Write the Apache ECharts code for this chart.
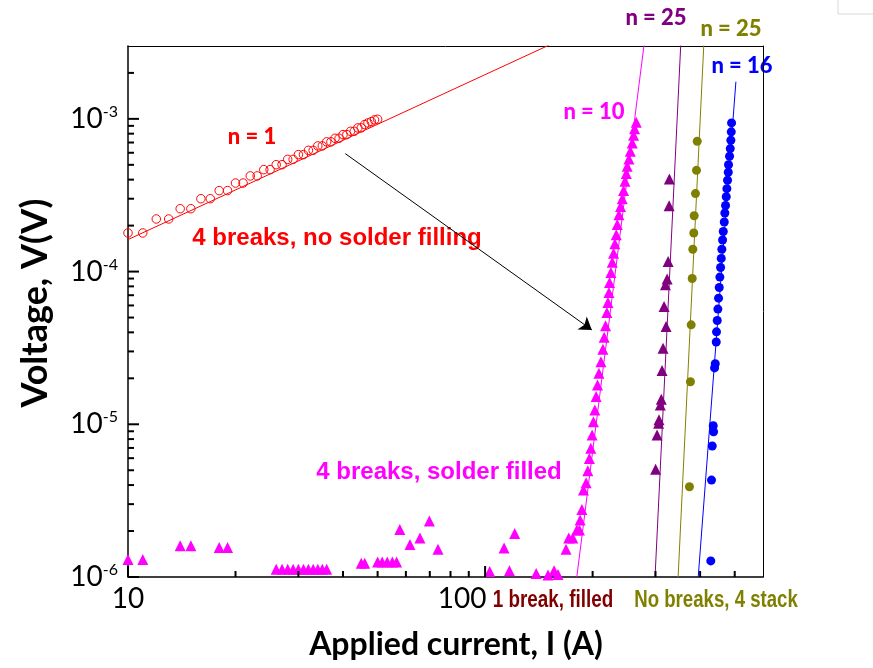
<!DOCTYPE html>
<html>
<head>
<meta charset="utf-8">
<script src="https://cdn.jsdelivr.net/npm/echarts@6/dist/echarts.min.js"></script>
<style>
html,body{margin:0;padding:0;background:#fff}
#chart{width:873px;height:668px}
</style>
</head>
<body>
<div id="chart"></div>
<script>
// 4 breaks, no solder filling (n = 1)
var noFillI = [10,11,12,13,14,15,16,17,18,19,20,21,22,23,24,25,26,27,28,29,30,
  31,32,33,34,35,36,37,38,39,40,41,42,43,44,45,46,47,48,49,50];
var noFillV = [1.79e-4,1.79e-4,2.21e-4,2.21e-4,2.58e-4,2.58e-4,3.0e-4,3.0e-4,3.39e-4,3.39e-4,
  3.8e-4,3.8e-4,4.23e-4,4.23e-4,4.65e-4,4.65e-4,5.01e-4,5.01e-4,5.43e-4,5.43e-4,
  5.83e-4,5.83e-4,6.22e-4,6.22e-4,6.65e-4,6.65e-4,7.07e-4,7.07e-4,7.46e-4,7.46e-4,
  7.89e-4,7.89e-4,8.29e-4,8.29e-4,8.73e-4,8.73e-4,9.18e-4,9.41e-4,9.6e-4,9.85e-4,9.94e-4];

// 4 breaks, solder filled (n = 10)
var filledI = [10,11,14,15,18,19,26,27,28,29,30,31,32,33,34,35,36,45,46,
  50,51.5,53.2,55,56.5,57.7,61.6,65.7,69.8,73.8,103,113,117,121,139,150,156,160,
  168.5,171.5,176,180.6,183.7,184.5,186.6,188.5,
  191.8,193.9,195.9,197.7,199.4,201.1,202.9,204.6,206.4,208.3,
  211.0,213.7,215.5,217.4,219.3,220.8,222.2,223.1,225.0,227.0,
  228.9,230.9,232.9,234.4,237.0,239.5,242.1,244.2,246.4,248.5,
  250.0,252.8,255.0,258.2,260.4,262.1,265.0];
var filledV = [1.30e-6,1.30e-6,1.60e-6,1.60e-6,1.56e-6,1.56e-6,
  1.125e-6,1.125e-6,1.125e-6,1.125e-6,1.125e-6,1.125e-6,1.125e-6,1.125e-6,1.125e-6,1.125e-6,1.125e-6,
  1.23e-6,1.23e-6,1.256e-6,1.256e-6,1.256e-6,1.256e-6,1.256e-6,
  2.05e-6,1.63e-6,1.80e-6,2.33e-6,1.52e-6,1.087e-6,1.55e-6,1.10e-6,1.93e-6,
  1.055e-6,1.03e-6,1.10e-6,1.04e-6,1.52e-6,1.80e-6,1.80e-6,2.03e-6,2.03e-6,2.36e-6,2.77e-6,3.71e-6,
  4.14e-6,4.96e-6,5.98e-6,6.96e-6,8.51e-6,1.04e-5,1.24e-5,1.52e-5,1.81e-5,2.16e-5,
  2.57e-5,3.10e-5,3.72e-5,4.41e-5,5.39e-5,6.27e-5,7.29e-5,8.48e-5,9.87e-5,1.15e-4,
  1.32e-4,1.52e-4,1.74e-4,2.03e-4,2.36e-4,2.67e-4,3.00e-4,3.40e-4,3.90e-4,4.38e-4,
  4.89e-4,5.47e-4,6.13e-4,6.96e-4,7.81e-4,8.60e-4,9.50e-4];

// 1 break, filled (n = 25)
var breakI = [300.2,303.0,306.1,306.9,309.5,311.5,313.0,315.0,321.2,317.0,319.8,323.3,325.4,327.5,328.1];
var breakV = [5.07e-6,8.51e-6,1.015e-5,1.07e-5,1.34e-5,1.46e-5,2.25e-5,3.15e-5,4.37e-5,
  5.90e-5,8.19e-5,8.93e-5,1.165e-4,2.70e-4,4.04e-4];

// No breaks, 4 stack (n = 25)
var stackI = [373.4,375.8,377.6,380.1,381.6,384.0,385.0,388.2,390.8,392.6];
var stackV = [3.90e-6,1.90e-5,4.48e-5,9.01e-5,1.40e-4,1.79e-4,2.32e-4,3.24e-4,4.60e-4,7.13e-4];

// n = 16
var blueI = [428.5,430.5,432.5,436.2,435.3,439.0,441.0,443.8,444.6,446.7,
  448.5,450.5,452.5,454.3,456.4,458.4,460.2,462.3,464.4,467.4,
  469.1,471.3,473.4,475.3,477.4,479.6,480.4,483.6,485.8,487.7,489.0,489.9];
var blueV = [1.275e-6,4.31e-6,7.21e-6,8.94e-6,9.79e-6,2.34e-5,2.49e-5,3.46e-5,4.03e-5,4.78e-5,
  5.68e-5,6.70e-5,7.87e-5,9.20e-5,1.064e-4,1.22e-4,1.40e-4,1.61e-4,1.83e-4,2.11e-4,
  2.42e-4,2.71e-4,3.09e-4,3.49e-4,3.96e-4,4.47e-4,5.01e-4,5.69e-4,6.39e-4,7.24e-4,8.22e-4,9.41e-4];

// power-law fit lines (end points)
var fitNoFillI = [10, 151],      fitNoFillV = [1.62e-4, 3.04e-3];
var fitFilledI = [180.6, 278.6], fitFilledV = [1e-6, 3.04e-3];
var fitBreakI = [299.1, 353.0],  fitBreakV = [1e-6, 3.04e-3];
var fitStackI = [347.1, 409.6],  fitStackV = [1e-6, 3.04e-3];
var fitBlueI = [395.1, 503.8],   fitBlueV = [1e-6, 1.75e-3];

// arrow from the n=1 data to the n=10 data
var arrowFrom = [40.6, 5.92e-4], arrowTo = [199, 4.15e-5];

// axis ranges and ticks
var xRange = [10, 600], yRange = [1e-6, 3e-3];
var xMajor = [10, 100];
var xMinor = [20,30,40,50,60,70,80,90,200,300,400,500];
var yMajor = [1e-6, 1e-5, 1e-4, 1e-3];
var yMinor = [];
[1e-6, 1e-5, 1e-4].forEach(function(d){
  for (var k = 2; k <= 9; k++) yMinor.push(k * d);
});
yMinor.push(2e-3);

function pairs(xs, ys){
  return xs.map(function(x, i){ return [x, ys[i]]; });
}
function isDecade(v){
  var e = Math.log10(v);
  return Math.abs(e - Math.round(e)) < 1e-6;
}

var RED = '#ff0000', MAG = '#ff00ff', PUR = '#800080', OLV = '#808000', BLU = '#0000ff', DRED = '#800000';

var chart = echarts.init(document.getElementById('chart'));

function fitLine(xs, ys, color){
  return {
    type: 'line', data: pairs(xs, ys), symbol: 'none', silent: true,
    lineStyle: {color: color, width: 1}, z: 2, clip: true
  };
}
function dots(xs, ys, color, symbol, size, hollow){
  return {
    type: 'scatter', data: pairs(xs, ys), symbol: symbol, symbolSize: size,
    itemStyle: hollow ? {color: 'rgba(255,255,255,0)', borderColor: color, borderWidth: 1, opacity: 1}
                      : {color: color, opacity: 1},
    z: 3
  };
}

// inward ticks, placed at axis values through the axes' own coordinates
function ticks(values, onX, len){
  return {
    type: 'custom', z: 10, clip: false,
    data: values.map(function(v){ return onX ? [v, yRange[0]] : [xRange[0], v]; }),
    renderItem: function(params, api){
      var p = api.coord([api.value(0), api.value(1)]);
      var shape = onX ? {x1: p[0], y1: p[1], x2: p[0], y2: p[1] - len}
                      : {x1: p[0], y1: p[1], x2: p[0] + len, y2: p[1]};
      return {type: 'line', shape: shape, style: {stroke: '#000', lineWidth: 2}};
    }
  };
}

function logAxis(range, pos){
  return {
    type: 'log', logBase: 10, min: range[0], max: range[1], position: pos,
    splitLine: {show: false},
    axisLine: {show: true, lineStyle: {color: '#000', width: 1.5}},
    axisTick: {show: false}
  };
}
// frame on the top and right: bare axis lines
function frameAxis(range, pos){
  return {
    type: 'log', logBase: 10, min: range[0], max: range[1], position: pos,
    splitLine: {show: false}, axisTick: {show: false}, axisLabel: {show: false},
    axisLine: {show: true, lineStyle: {color: '#000', width: 1}}
  };
}

var xMain = logAxis(xRange, 'bottom');
xMain.axisLabel = {
  show: true, margin: 8, showMaxLabel: false,
  formatter: function(v){
    if (!isDecade(v)) return '';
    return Math.round(v) === 100 ? '{h|100}' : '{a|' + Math.round(v) + '}';
  },
  rich: {
    a: {fontFamily: 'Lato', fontSize: 28, color: '#000'},
    h: {fontFamily: 'Lato', fontSize: 28, color: '#000', padding: [0, 46, 0, 0]}
  }
};

var yMain = logAxis(yRange, 'left');
yMain.axisLabel = {
  show: true, margin: 10, showMaxLabel: false,
  formatter: function(v){
    if (!isDecade(v)) return '';
    return '{b|10}{s|' + Math.round(Math.log10(v)) + '}';
  },
  rich: {
    b: {fontFamily: 'Lato', fontSize: 28, color: '#000', lineHeight: 30},
    s: {fontFamily: 'Lato', fontSize: 16, color: '#000', verticalAlign: 'top', lineHeight: 16}
  }
};

var notes = [
  {t: 'n = 1', x: 252, y: 137, c: RED, f: '900 22px Lato'},
  {t: '4 breaks, no solder filling', x: 337, y: 238, c: RED, f: 'bold 24px "Liberation Sans"'},
  {t: 'n = 10', x: 594, y: 112, c: MAG, f: '900 22px Lato'},
  {t: 'n = 25', x: 656, y: 18, c: PUR, f: '900 22px Lato'},
  {t: 'n = 25', x: 731, y: 29, c: OLV, f: '900 22px Lato'},
  {t: 'n = 16', x: 742, y: 66, c: BLU, f: '900 22px Lato'},
  {t: '4 breaks, solder filled', x: 439, y: 472, c: MAG, f: 'bold 24px "Liberation Sans"'},
  {t: '1 break, filled', x: 553, y: 601, c: DRED, f: 'bold 23px "Liberation Sans"', sx: 0.82},
  {t: 'No breaks, 4 stack', x: 716, y: 601, c: OLV, f: 'bold 23px "Liberation Sans"', sx: 0.81}
];

var graphics = notes.map(function(n){
  return {
    type: 'text', x: n.x, y: n.y, scaleX: n.sx || 1, silent: true,
    style: {text: n.t, fill: n.c, font: n.f,
      textAlign: 'center', textVerticalAlign: 'middle', align: 'center', verticalAlign: 'middle'}
  };
});
graphics.push({
  type: 'text', x: 456, y: 645, silent: true,
  style: {text: 'Applied current, I (A)', fill: '#000', font: 'bold 32px Lato',
    textAlign: 'center', textVerticalAlign: 'middle', align: 'center', verticalAlign: 'middle'}
});
graphics.push({
  type: 'text', x: 35, y: 303, rotation: Math.PI / 2, silent: true,
  style: {text: 'Voltage, V(V)', fill: '#000', font: 'bold 36px Lato',
    textAlign: 'center', textVerticalAlign: 'middle', align: 'center', verticalAlign: 'middle'}
});
graphics.push({
  type: 'rect', shape: {x: 838, y: -2, width: 40, height: 16}, silent: true,
  style: {fill: 'none', stroke: '#d8d8d8', lineWidth: 1}
});

var redDots = dots(noFillI, noFillV, RED, 'circle', 8.5, true);
redDots.markLine = {
  silent: true, symbol: ['none', 'arrow'], symbolSize: 12,
  lineStyle: {color: '#000', width: 1, type: 'solid'},
  label: {show: false},
  data: [[{coord: arrowFrom}, {coord: arrowTo}]]
};

var option = {
  animation: false,
  grid: {left: 128, top: 46, right: 110, bottom: 91},
  xAxis: [xMain, frameAxis(xRange, 'top')],
  yAxis: [yMain, frameAxis(yRange, 'right')],
  graphic: graphics,
  series: [
    fitLine(fitNoFillI, fitNoFillV, RED),
    redDots,
    fitLine(fitFilledI, fitFilledV, MAG),
    dots(filledI, filledV, MAG, 'triangle', 11),
    fitLine(fitBreakI, fitBreakV, PUR),
    dots(breakI, breakV, PUR, 'triangle', 11),
    fitLine(fitStackI, fitStackV, OLV),
    dots(stackI, stackV, OLV, 'circle', 9),
    fitLine(fitBlueI, fitBlueV, BLU),
    dots(blueI, blueV, BLU, 'circle', 9),
    ticks(xMinor, true, 6),
    ticks(xMajor, true, 11),
    ticks(yMinor, false, 6),
    ticks(yMajor, false, 11)
  ]
};
chart.setOption(option);
</script>
</body>
</html>
